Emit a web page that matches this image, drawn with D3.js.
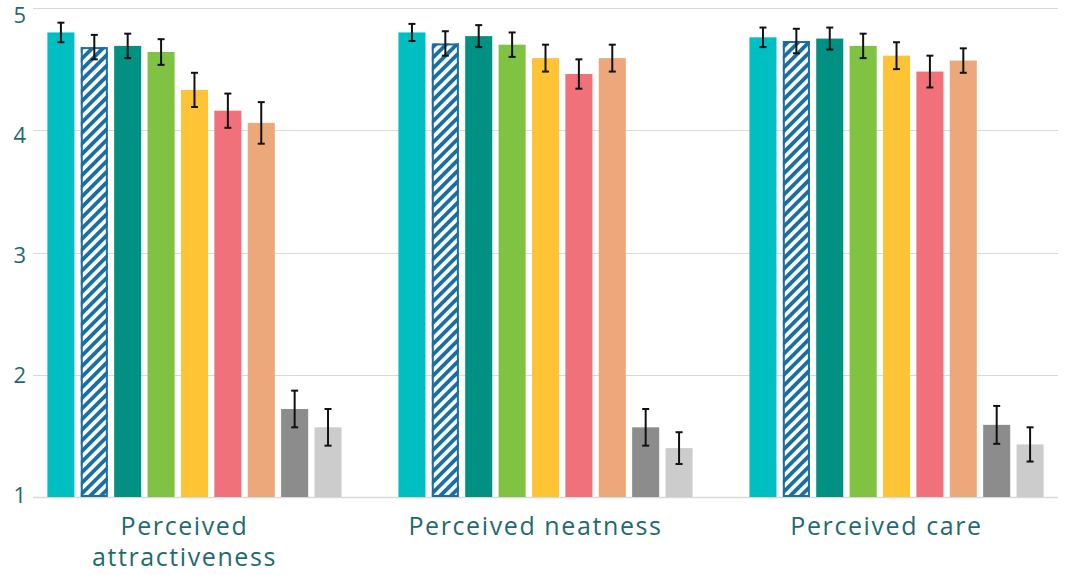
<!DOCTYPE html>
<html>
<head>
<meta charset="utf-8">
<script src="https://cdn.jsdelivr.net/npm/d3@7"></script>
<style>
  body { margin: 0; background: #fff; }
  svg { display: block; font-family: "Open Sans", "Noto Sans", sans-serif; }
</style>
</head>
<body>
<svg id="chart" width="1066" height="575"></svg>
<script>
// Categories along the x axis
const categories = ["Perceived attractiveness", "Perceived neatness", "Perceived care"];
const categoryLines = [["Perceived", "attractiveness"], ["Perceived neatness"], ["Perceived care"]];

// Nine series (no legend in the picture)
const series = ["s1", "s2", "s3", "s4", "s5", "s6", "s7", "s8", "s9"];
const seriesColors = ["#00bfc2", "hatch", "#009183", "#80c242", "#ffc436", "#f1717a", "#eca87b", "#8c8c8c", "#cccccc"];

// Mean values, one array per category (series order)
const attractiveness = [4.80, 4.68, 4.69, 4.64, 4.33, 4.16, 4.06, 1.72, 1.57];
const neatness       = [4.80, 4.71, 4.77, 4.70, 4.59, 4.46, 4.59, 1.57, 1.40];
const care           = [4.76, 4.73, 4.75, 4.69, 4.61, 4.48, 4.57, 1.59, 1.43];

// Error bar half widths
const attractivenessErr = [0.08, 0.10, 0.10, 0.105, 0.14, 0.14, 0.17, 0.15, 0.15];
const neatnessErr       = [0.07, 0.10, 0.09, 0.10, 0.11, 0.12, 0.11, 0.15, 0.13];
const careErr           = [0.08, 0.10, 0.09, 0.10, 0.11, 0.13, 0.10, 0.155, 0.14];

const yTicks = [1, 2, 3, 4, 5];

const values = [attractiveness, neatness, care];
const errors = [attractivenessErr, neatnessErr, careErr];

const data = [];
categories.forEach((c, i) => {
    series.forEach((s, j) => {
        data.push({ category: c, series: s, value: values[i][j], err: errors[i][j], color: seriesColors[j] });
    });
});

const svg = d3.select("#chart");

const plotLeft = 33, plotRight = 1058;
const x0 = d3.scaleBand()
    .domain(categories)
    .range([plotLeft, plotRight])
    .paddingInner(0.162)
    .paddingOuter(0.041);

const x1 = d3.scaleBand()
    .domain(series)
    .range([0, x0.bandwidth()])
    .paddingInner(0.19)
    .paddingOuter(0);

const y = d3.scaleLinear()
    .domain([1, 5])
    .range([497, 8]);

// tick labels sit on a slightly tighter spacing than the gridlines
const yLabel = d3.scaleLinear()
    .domain([1, 5])
    .range([503, 23]);

// Hatch pattern for the second series
const defs = svg.append("defs");
defs.append("pattern")
    .attr("id", "hatch")
    .attr("patternUnits", "userSpaceOnUse")
    .attr("width", 7.5)
    .attr("height", 7.5)
    .attr("patternTransform", "rotate(45)")
    .call(p => {
        p.append("rect").attr("width", 7.5).attr("height", 7.5).attr("fill", "#fff");
        p.append("rect").attr("width", 3.8).attr("height", 7.5).attr("fill", "#1a6ea0");
    });

// Gridlines
svg.append("g")
    .selectAll("line")
    .data(yTicks)
    .enter()
    .append("line")
    .attr("x1", plotLeft)
    .attr("x2", plotRight)
    .attr("y1", d => Math.round(y(d)) + 0.5)
    .attr("y2", d => Math.round(y(d)) + 0.5)
    .attr("stroke", "#d9d9d9")
    .attr("stroke-width", d => d === 1 ? 1.5 : 1);

// Y tick labels
svg.append("g")
    .selectAll("text")
    .data(yTicks)
    .enter()
    .append("text")
    .attr("x", 26)
    .attr("y", d => yLabel(d))
    .attr("text-anchor", "end")
    .attr("fill", "#1f6b6b")
    .style("font-size", "22px")
    .text(d => d);

// Bars
const bars = svg.append("g");
bars.selectAll("rect")
    .data(data)
    .enter()
    .append("rect")
    .attr("x", d => x0(d.category) + x1(d.series))
    .attr("y", d => y(d.value))
    .attr("width", x1.bandwidth())
    .attr("height", d => y(1) - y(d.value))
    .attr("fill", d => d.color === "hatch" ? "url(#hatch)" : d.color);

// Border around the hatched bars
bars.selectAll("rect.outline")
    .data(data.filter(d => d.color === "hatch"))
    .enter()
    .append("rect")
    .attr("class", "outline")
    .attr("x", d => x0(d.category) + x1(d.series) + 1)
    .attr("y", d => y(d.value) + 1)
    .attr("width", x1.bandwidth() - 2)
    .attr("height", d => y(1) - y(d.value) - 2)
    .attr("fill", "none")
    .attr("stroke", "#1a6ea0")
    .attr("stroke-width", 2);

// Error bars
const eb = svg.append("g")
    .selectAll("g")
    .data(data)
    .enter()
    .append("g")
    .attr("transform", d => "translate(" + (x0(d.category) + x1(d.series) + x1.bandwidth() / 2) + ",0)");

eb.append("line")
    .attr("y1", d => y(d.value + d.err))
    .attr("y2", d => y(d.value - d.err))
    .attr("stroke", "#111")
    .attr("stroke-width", 2);

eb.selectAll("line.cap")
    .data(d => [d.value + d.err, d.value - d.err])
    .enter()
    .append("line")
    .attr("class", "cap")
    .attr("x1", -3.5)
    .attr("x2", 3.5)
    .attr("y1", d => y(d))
    .attr("y2", d => y(d))
    .attr("stroke", "#111")
    .attr("stroke-width", 2);

// Category labels (sit a little left of the bar group centres)
const labelShift = -10;
svg.append("g")
    .selectAll("text")
    .data(categories)
    .enter()
    .append("text")
    .attr("x", d => x0(d) + x0.bandwidth() / 2 + labelShift)
    .attr("y", 535)
    .attr("text-anchor", "middle")
    .attr("fill", "#1f6b6b")
    .style("font-size", "25px")
    .style("letter-spacing", "1.6px")
    .each(function (d, i) {
        const t = d3.select(this);
        categoryLines[i].forEach((line, k) => {
            t.append("tspan")
                .attr("x", x0(d) + x0.bandwidth() / 2 + labelShift)
                .attr("dy", k === 0 ? 0 : 31)
                .text(line);
        });
    });
</script>
</body>
</html>
